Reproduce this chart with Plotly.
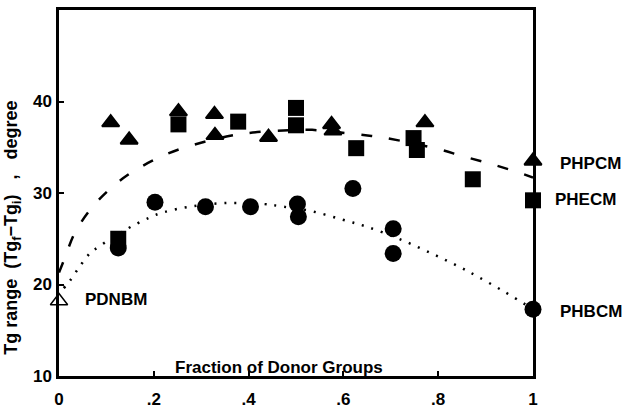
import plotly.graph_objects as go

# PHPCM (filled triangles)
phpcm_x = [0.109, 0.148, 0.252, 0.328, 0.329, 0.442, 0.575, 0.578, 0.772, 1.0]
phpcm_y = [37.7, 35.8, 38.9, 38.6, 36.3, 36.1, 37.5, 36.8, 37.7, 33.5]
# PHECM (filled squares)
phecm_x = [0.125, 0.252, 0.378, 0.5, 0.5, 0.627, 0.748, 0.755, 0.873, 1.0]
phecm_y = [25.0, 37.5, 37.8, 39.3, 37.4, 34.9, 36.0, 34.7, 31.5, 29.2]
# PHBCM (filled circles)
phbcm_x = [0.125, 0.2025, 0.309, 0.404, 0.503, 0.505, 0.62, 0.705, 0.705, 1.0]
phbcm_y = [24.0, 29.0, 28.5, 28.5, 28.8, 27.4, 30.5, 26.1, 23.4, 17.3]
# PDNBM (open triangle)
pdnbm_x = [0.0]
pdnbm_y = [18.2]

# dashed guide curve
dash_x = [0.0, 0.013, 0.034, 0.076, 0.135, 0.196, 0.255, 0.378, 0.5, 0.534, 0.631, 0.69, 0.8, 0.853, 0.903, 0.948, 1.0]
dash_y = [21.3, 23.0, 25.7, 28.8, 31.6, 33.5, 34.8, 36.4, 36.9, 36.9, 36.4, 36.0, 34.8, 34.0, 33.3, 32.6, 31.7]
# dotted guide curve
dot_x = [0.01, 0.023, 0.044, 0.065, 0.083, 0.141, 0.19, 0.221, 0.276, 0.35, 0.43, 0.473, 0.534, 0.597, 0.65, 0.726, 0.79, 0.842, 0.882, 0.94, 1.0]
dot_y = [19.6, 20.4, 22.0, 23.4, 24.1, 26.0, 27.3, 27.9, 28.5, 28.9, 28.8, 28.5, 28.0, 27.1, 26.3, 24.8, 23.3, 22.0, 20.9, 19.2, 17.3]

x_ticks = [0, 0.2, 0.4, 0.6, 0.8, 1]
x_tick_text = ["0", ".2", ".4", ".6", ".8", "1"]
y_ticks = [10, 20, 30, 40]

FONT = "Arial, Liberation Sans, sans-serif"
FS = 17

fig = go.Figure()
fig.add_trace(go.Scatter(x=dash_x, y=dash_y, mode="lines", line_shape="spline",
                         line=dict(color="black", width=2.5, dash="11px,17px"), hoverinfo="skip"))
fig.add_trace(go.Scatter(x=dot_x, y=dot_y, mode="lines", line_shape="spline",
                         line=dict(color="black", width=2.5, dash="2px,8px"), hoverinfo="skip"))
fig.add_trace(go.Scatter(x=phpcm_x, y=phpcm_y, mode="markers", name="PHPCM",
                         marker=dict(symbol="triangle-up", size=15, color="black",
                                     line=dict(color="black", width=2))))
fig.add_trace(go.Scatter(x=phecm_x, y=phecm_y, mode="markers", name="PHECM",
                         marker=dict(symbol="square", size=16, color="black")))
fig.add_trace(go.Scatter(x=phbcm_x, y=phbcm_y, mode="markers", name="PHBCM",
                         marker=dict(symbol="circle", size=17, color="black")))
fig.add_trace(go.Scatter(x=pdnbm_x, y=pdnbm_y, mode="markers", name="PDNBM",
                         marker=dict(symbol="triangle-up-open", size=15, color="black",
                                     line=dict(color="black", width=1.5))))
fig.update_traces(cliponaxis=False)

lab_font = dict(family=FONT, size=FS, color="black", weight="bold")
# right-hand labels anchored at their right edge
for txt, x, y in [("PHPCM", 1.19, 33.2), ("PHECM", 1.179, 29.3), ("PHBCM", 1.193, 17.0)]:
    fig.add_annotation(x=x, y=y, xref="paper", yref="y", text=txt, showarrow=False,
                       xanchor="right", yanchor="middle", font=lab_font)
fig.add_annotation(x=0.05, y=18.4, xref="paper", yref="y", text="PDNBM", showarrow=False,
                   xanchor="left", yanchor="middle", font=lab_font)

fig.add_annotation(x=0.464, y=0, xref="paper", yref="paper", text="Fraction of Donor Groups",
                   showarrow=False, xanchor="center", yanchor="middle", yshift=9,
                   font=dict(family=FONT, size=FS, color="black", weight="bold"))
fig.add_annotation(x=-0.097, y=0.405, xref="paper", yref="paper",
                   text="Tg range  (Tg<sub>f</sub>\u2212Tg<sub>i</sub>)   ,   degree",
                   textangle=-90, showarrow=False, xanchor="center", yanchor="middle",
                   font=dict(family=FONT, size=18, color="black", weight="bold"))

axis_common = dict(showline=True, linewidth=2.5, linecolor="black", mirror=True,
                   showgrid=False, zeroline=False, ticks="inside", ticklen=5,
                   tickwidth=2, tickcolor="black",
                   tickfont=dict(family=FONT, size=FS, color="black", weight="bold"))
fig.update_xaxes(range=[0, 1], tickvals=x_ticks, ticktext=x_tick_text,
                 ticklabelstandoff=6, **axis_common)
fig.update_yaxes(range=[10, 50], tickvals=y_ticks, ticklabelstandoff=1, **axis_common)

fig.update_layout(width=627, height=416, margin=dict(l=59, r=94, t=7, b=25),
                  paper_bgcolor="white", plot_bgcolor="white", showlegend=False)

fig.write_html("out.html", config={"displayModeBar": False},
               post_script="document.body.style.margin='0px';")
